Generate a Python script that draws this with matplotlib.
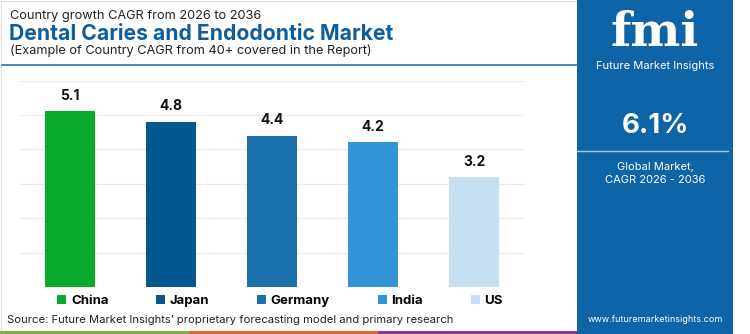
import matplotlib.pyplot as plt
from matplotlib.patches import Rectangle
from matplotlib.lines import Line2D

countries = ["China", "Japan", "Germany", "India", "US"]
cagr = [5.1, 4.8, 4.4, 4.2, 3.2]
colors = ["#0aab2d", "#04588f", "#1b71ad", "#3194d6", "#c4e0f2"]
global_cagr = "6.1%"

W, H = 750, 334
plt.rcParams['font.family'] = ['Inter', 'DejaVu Sans']

fig = plt.figure(figsize=(W / 100, H / 100), dpi=100)


def fx(px):
    return px / W


def fy(py):
    return 1 - py / H


# frame and header rule
fig.add_artist(Rectangle((fx(1), fy(333)), fx(576), 332 / H, transform=fig.transFigure,
                         fill=False, edgecolor="#dddddd", lw=0.8))
fig.add_artist(Line2D([fx(2), fx(577)], [fy(65), fy(65)], transform=fig.transFigure,
                      color="#2a73b3", lw=1.2))

# titles
fig.text(fx(10), fy(16), "Country growth CAGR from 2026 to 2036", fontsize=9.2,
         color="#222222", va="center")
fig.text(fx(9), fy(34), "Dental Caries and Endodontic Market", fontsize=15.2,
         fontweight="bold", color="#0c5e9e", va="center")
fig.text(fx(10), fy(51), "(Example of Country CAGR from 40+ covered in the Report)",
         fontsize=9.2, color="#222222", va="center")

# bar chart
ax = fig.add_axes([fx(19.5), fy(287), fx(505), 206.5 / H])
x = range(len(countries))
bars = ax.bar(x, cagr, width=0.5, color=colors, zorder=3)
ax.set_xlim(-0.5, 4.5)
ax.set_ylim(0, 6)
ax.set_yticks([1, 2, 3, 4, 5, 6])
ax.yaxis.grid(True, color="#ebebeb", lw=0.8, zorder=0)
ax.set_xticks([])
ax.tick_params(left=False, labelleft=False)
for s in ax.spines.values():
    s.set_visible(False)
for i, v in enumerate(cagr):
    ax.annotate(f"{v}", (i, v), xytext=(0, 6), textcoords="offset points",
                ha="center", va="bottom", fontsize=10, fontweight="bold", color="#111111")

leg = fig.legend(bars, countries, loc="center", bbox_to_anchor=(fx(280), fy(301)), ncol=5,
                 frameon=False, handlelength=0.7, handleheight=0.7, handletextpad=0.35,
                 columnspacing=3.6, prop={"weight": "bold", "size": 9.5})

fig.text(fx(7), fy(320), "Source: Future Market Insights\u2019 proprietary forecasting model and primary research",
         fontsize=8.1, color="#222222", va="center")

# bottom stripe
for x0, x1, c in [(0, 189, "#7cb342"), (189, 378, "#e0662a"), (378, 577, "#8e3a96")]:
    fig.add_artist(Rectangle((fx(x0), 0), fx(x1 - x0), 3.5 / H, transform=fig.transFigure,
                             color=c, lw=0))

# right panel
fig.add_artist(Rectangle((fx(577), 0), fx(156), 1, transform=fig.transFigure,
                         color="#0f64a8", lw=0))
fig.text(fx(655), fy(33), "fmi", fontsize=34, fontweight="bold", color="white",
         ha="center", va="center", family="DejaVu Serif")
fig.text(fx(655), fy(66), "Future Market Insights", fontsize=8, color="white",
         ha="center", va="center")
fig.text(fx(655), fy(126), global_cagr, fontsize=20, fontweight="bold", color="white",
         ha="center", va="center")
fig.add_artist(Line2D([fx(577), fx(728)], [fy(151), fy(151)], transform=fig.transFigure,
                      color="#a9c8e6", lw=1))
fig.text(fx(655), fy(167), "Global Market,", fontsize=8, color="white", ha="center", va="center")
fig.text(fx(655), fy(180), "CAGR 2026 - 2036", fontsize=8, color="white", ha="center", va="center")
fig.text(fx(655), fy(319), "www.futuremarketinsights.com", fontsize=6.5, color="white",
         ha="center", va="center")

fig.savefig("out.png", dpi=100)
